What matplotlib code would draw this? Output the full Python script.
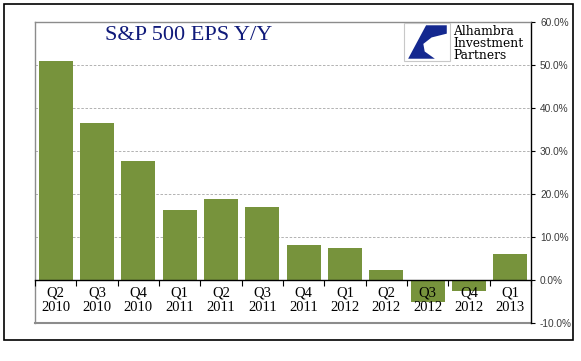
import numpy as np
import matplotlib.pyplot as plt
from matplotlib.patches import Rectangle, Polygon

quarters = ['Q2', 'Q3', 'Q4', 'Q1', 'Q2', 'Q3', 'Q4', 'Q1', 'Q2', 'Q3', 'Q4', 'Q1']
years = ['2010', '2010', '2010', '2011', '2011', '2011', '2011', '2012', '2012', '2012', '2012', '2013']
eps_yy = [51.0, 36.5, 27.6, 16.3, 18.9, 17.0, 8.1, 7.4, 2.3, -5.0, -2.5, 6.0]

W, H = 581, 361
fig = plt.figure(figsize=(W / 100, H / 100), dpi=100)

# outer black frame
fig.patches.append(Rectangle((4 / W, 1 - 340 / H), 569 / W, 336 / H, transform=fig.transFigure,
                             fill=False, edgecolor='black', linewidth=1.2))

ax = fig.add_axes([35 / W, 1 - 323 / H, (531 - 35) / W, (323 - 22) / H])
ax.set_axisbelow(False)
x = np.arange(len(eps_yy))
ax.bar(x, eps_yy, width=0.82, color='#77933C', zorder=2)

ax.set_xlim(-0.5, len(eps_yy) - 0.5)
ax.set_ylim(-10, 60)

# right axis
ax.yaxis.tick_right()
ax.set_yticks(np.arange(-10, 61, 10))
ax.set_yticklabels(['%.1f%%' % v for v in np.arange(-10, 61, 10)],
                   fontfamily='Liberation Sans', fontsize=7.3, color='#3A3A3A')
ax.tick_params(axis='y', length=3, width=0.8, pad=3.5, color='black')
for v in range(10, 60, 10):
    ax.axhline(v, color='#A6A6A6', linewidth=0.6, linestyle=(0, (3, 2)), zorder=1)

# spines
ax.spines['right'].set_color('black')
ax.spines['right'].set_linewidth(1.0)
for s in ['left', 'top']:
    ax.spines[s].set_color('#8C8C8C')
    ax.spines[s].set_linewidth(1.0)
ax.spines['bottom'].set_position(('data', 0))
ax.spines['bottom'].set_color('black')
ax.spines['bottom'].set_linewidth(1.0)
ax.axhline(-10, color='#8C8C8C', linewidth=1.5, clip_on=False)

# category ticks at boundaries, labels at centres
ax.set_xticks(np.arange(-0.5, len(eps_yy), 1.0))
ax.set_xticklabels([])
ax.tick_params(axis='x', which='major', length=4, width=0.8, direction='out', color='black')
ax.set_xticks(x, minor=True)
ax.set_xticklabels([q + '\n' + y for q, y in zip(quarters, years)], minor=True,
                   fontfamily='Liberation Serif', fontsize=10.5, linespacing=1.15)
ax.tick_params(axis='x', which='minor', length=0, pad=5)

# title
fig.text(189 / W, 1 - 36 / H, 'S&P 500 EPS Y/Y', ha='center', va='center',
         fontfamily='Liberation Serif', fontsize=16, color='#101A7A')

# logo
lx0, ly0, lw, lh = 404 / W, 1 - 61 / H, 46 / W, 38 / H
fig.patches.append(Rectangle((lx0, ly0), lw, lh, transform=fig.transFigure,
                             facecolor='white', edgecolor='#C8C8C8', linewidth=0.8, zorder=5))
shape = [(0.48, 0.94), (0.93, 0.94), (0.93, 0.72), (0.6, 0.62), (0.42, 0.45),
         (0.45, 0.25), (0.67, 0.06), (0.09, 0.06)]
fig.patches.append(Polygon([(lx0 + u * lw, ly0 + v * lh) for u, v in shape],
                           transform=fig.transFigure, facecolor='#14288F', edgecolor='none', zorder=6))
fig.text(453 / W, 1 - 25 / H, 'Alhambra\nInvestment\nPartners', ha='left', va='top',
         fontfamily='DejaVu Serif', fontsize=8.8, color='black', linespacing=0.92)

fig.savefig('out.png', dpi=100)
